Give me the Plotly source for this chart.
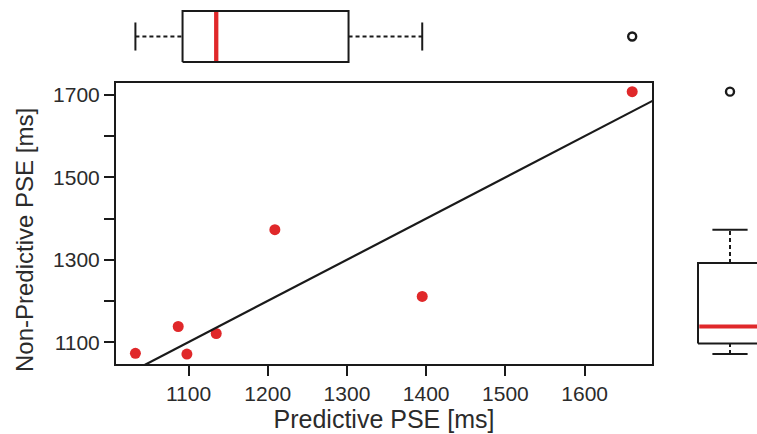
import math
import plotly.graph_objects as go

# ---- data ----
predictive = [1033, 1087, 1098, 1135, 1209, 1395, 1660]
non_predictive = [1073, 1138, 1071, 1121, 1373, 1211, 1708]
x_ticks = [1100, 1200, 1300, 1400, 1500, 1600]
y_ticks = [1100, 1200, 1300, 1400, 1500, 1600, 1700]
y_labels = ["1100", "", "1300", "", "1500", "", "1700"]
x_range = [1008.5, 1685]
y_range = [1047, 1729]

W, H = 757, 434
RED = "#E0282A"
BLACK = "#1a1a1a"
TXT = "#2b2b2b"
FONT = "Liberation Sans, Arial, sans-serif"


def fivenum(v):
    s = sorted(v)
    n = len(s)
    n4 = math.floor((n + 3) / 2) / 2
    d = [1, n4, (n + 1) / 2, n + 1 - n4, n]
    return [0.5 * (s[math.floor(di - 1)] + s[math.ceil(di - 1)]) for di in d]


def box_stats(v):
    _, q1, med, q3, _ = fivenum(v)
    iqr = q3 - q1
    lo_f, hi_f = q1 - 1.5 * iqr, q3 + 1.5 * iqr
    inside = [a for a in v if lo_f <= a <= hi_f]
    out = [a for a in v if a < lo_f or a > hi_f]
    return dict(q1=q1, med=med, q3=q3, lo=min(inside), hi=max(inside), out=out)


def px_x(p):
    return p / W


def px_y(p):
    return 1 - p / H


fig = go.Figure()

# ---- main scatter ----
fig.add_trace(go.Scatter(x=predictive, y=non_predictive, mode="markers",
                         marker=dict(color=RED, size=11, line=dict(width=0)),
                         xaxis="x", yaxis="y", showlegend=False))
# identity line across the axis range
lo = max(x_range[0], y_range[0])
hi = min(x_range[1], y_range[1]) + 60
fig.add_trace(go.Scatter(x=[lo - 60, hi], y=[lo - 60, hi], mode="lines",
                         line=dict(color=BLACK, width=2.2),
                         xaxis="x", yaxis="y", showlegend=False))


def add_line(xs, ys, xa, ya, color=BLACK, width=2, dash=None):
    fig.add_trace(go.Scatter(x=xs, y=ys, mode="lines",
                             line=dict(color=color, width=width, dash=dash),
                             xaxis=xa, yaxis=ya, showlegend=False,
                             hoverinfo="skip"))


# ---- top horizontal box (x = predictive) ----
sx = box_stats(predictive)
c, hb, hc = 0.0, 1.0, 0.55  # center, half box height, half cap height
add_line([sx["q1"], sx["q3"], sx["q3"], sx["q1"], sx["q1"]],
         [c - hb, c - hb, c + hb, c + hb, c - hb], "x2", "y2")
add_line([sx["med"], sx["med"]], [c - hb + 0.04, c + hb - 0.04], "x2", "y2", RED, 4.3)
add_line([sx["lo"], sx["q1"]], [c, c], "x2", "y2", dash="4px,3px")
add_line([sx["q3"], sx["hi"]], [c, c], "x2", "y2", dash="4px,3px")
add_line([sx["lo"], sx["lo"]], [c - hc, c + hc], "x2", "y2")
add_line([sx["hi"], sx["hi"]], [c - hc, c + hc], "x2", "y2")
fig.add_trace(go.Scatter(x=sx["out"], y=[c] * len(sx["out"]), mode="markers",
                         marker=dict(symbol="circle-open", color=BLACK, size=8,
                                     line=dict(width=2.4)),
                         xaxis="x2", yaxis="y2", showlegend=False))

# ---- right vertical box (y = non-predictive) ----
sy = box_stats(non_predictive)
add_line([c - hb, c + hb, c + hb, c - hb, c - hb],
         [sy["q1"], sy["q1"], sy["q3"], sy["q3"], sy["q1"]], "x3", "y3")
add_line([c - hb + 0.04, c + hb], [sy["med"], sy["med"]], "x3", "y3", RED, 4)
add_line([c, c], [sy["lo"], sy["q1"]], "x3", "y3", dash="4px,3px")
add_line([c, c], [sy["q3"], sy["hi"]], "x3", "y3", dash="4px,3px")
add_line([c - hc, c + hc], [sy["lo"], sy["lo"]], "x3", "y3")
add_line([c - hc, c + hc], [sy["hi"], sy["hi"]], "x3", "y3")
fig.add_trace(go.Scatter(x=[c] * len(sy["out"]), y=sy["out"], mode="markers",
                         marker=dict(symbol="circle-open", color=BLACK, size=8,
                                     line=dict(width=2.4)),
                         xaxis="x3", yaxis="y3", showlegend=False))

# ---- layout ----
main_x_dom = [px_x(116), px_x(652)]
main_y_dom = [px_y(364), px_y(83)]

axis_common = dict(showgrid=False, zeroline=False, automargin=False,
                   showline=True, mirror=True, linecolor=BLACK, linewidth=2,
                   ticks="outside", ticklen=10, tickwidth=2, tickcolor=BLACK,
                   tickfont=dict(family=FONT, size=21, color=TXT))

hidden = dict(showgrid=False, zeroline=False, showline=False, showticklabels=False,
              ticks="", automargin=False)

# top box: box of half-height 1 spans 25.5 px, centered at pixel y=36.5
top_dom = [px_y(36.5 + 36.5), px_y(0)]
top_half = 36.5 / 25.5
# right box: center at pixel x=730, half-width 32
right_dom = [px_x(660), 1.0]
right_lo = -(730 - 660) / 32
right_hi = (757 - 730) / 32

fig.update_layout(
    width=W, height=H,
    margin=dict(l=0, r=0, t=0, b=0),
    paper_bgcolor="white", plot_bgcolor="white",
    font=dict(family=FONT, color=TXT),
    xaxis=dict(domain=main_x_dom, range=x_range, anchor="y",
               tickvals=x_ticks, ticktext=[str(v) for v in x_ticks],
               title=dict(text="Predictive PSE [ms]", standoff=5,
                          font=dict(family=FONT, size=25, color=TXT)),
               **axis_common),
    yaxis=dict(domain=main_y_dom, range=y_range, anchor="x",
               tickvals=y_ticks, ticktext=y_labels,
               **axis_common),
    xaxis2=dict(domain=main_x_dom, range=x_range, anchor="y2", **hidden),
    yaxis2=dict(domain=top_dom, range=[-top_half, top_half], anchor="x2", **hidden),
    xaxis3=dict(domain=right_dom, range=[right_lo, right_hi], anchor="y3", **hidden),
    yaxis3=dict(domain=main_y_dom, range=y_range, anchor="x3", **hidden),
    annotations=[dict(text="Non-Predictive PSE [ms]", textangle=-90,
                      xref="paper", yref="paper", x=px_x(24), y=px_y(240),
                      xanchor="center", yanchor="middle", showarrow=False,
                      font=dict(family=FONT, size=24, color=TXT))],
)

fig.write_html("out.html")
